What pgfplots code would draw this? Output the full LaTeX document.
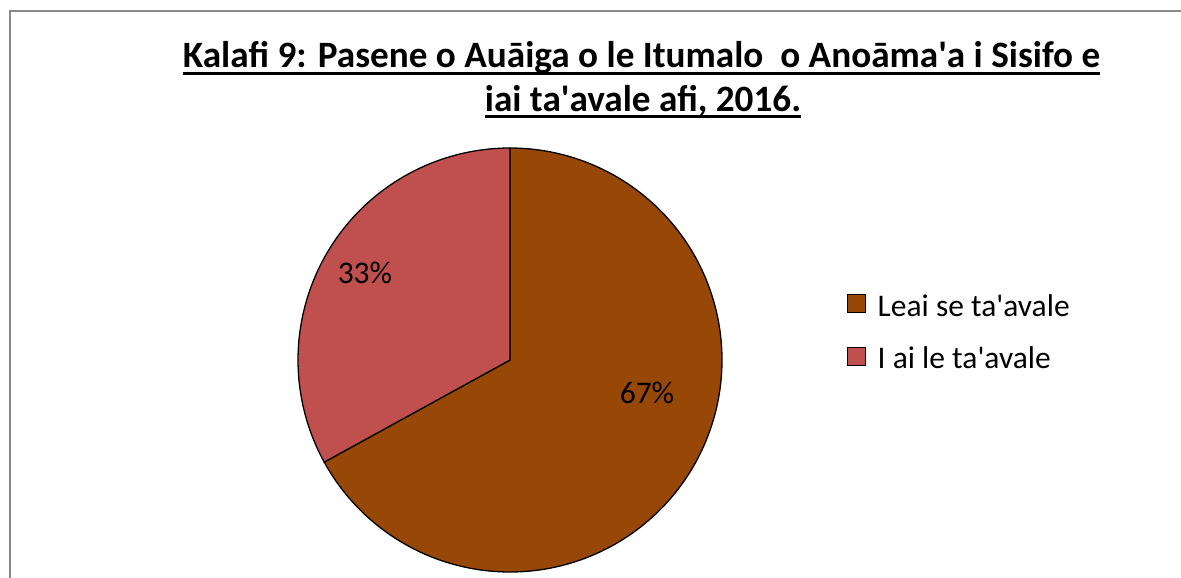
\documentclass[border=0pt]{standalone}
\usepackage{pgfplots}
\pgfplotsset{compat=1.18}
\usepackage{pgfplotstable}
\usepackage{fontspec}
\setmainfont{Carlito}
\definecolor{brownc}{HTML}{974706}
\definecolor{redc}{HTML}{C0504D}
\definecolor{framec}{HTML}{898989}
\newcommand\q{\textquotesingle}
\newcommand\ul[1]{\setbox0\hbox{#1}\rlap{\rule[-7pt]{\wd0}{2.5pt}}\box0}

\pgfplotstableread{
value
67
33
}\piedata

\begin{document}%
\begin{tikzpicture}
\pgfplotstablegetelem{0}{value}\of\piedata\pgfmathsetmacro\va{\pgfplotsretval}
\pgfplotstablegetelem{1}{value}\of\piedata\pgfmathsetmacro\vb{\pgfplotsretval}
\pgfmathsetmacro\splitang{90+3.6*\vb}
\pgfmathsetmacro\endang{\splitang+3.6*\va}
\begin{axis}[
  x=1pt, y=1pt,
  xmin=0, xmax=1181, ymin=0, ymax=578,
  y dir=reverse,
  hide axis, clip=false,
  legend style={at={(axis cs:847,294)}, anchor=north west, draw=none, fill=none,
    font=\fontsize{31.5}{38}\selectfont, row sep=29.5pt, column sep=0pt, inner sep=0pt,
    nodes={inner sep=0pt}},
  legend cell align=left,
  legend image code/.code={\draw[#1, draw=black, line width=1pt] (0pt,-7pt) rectangle (18pt,11pt);
     \path[draw=none, fill=none] (0pt,0pt) -- (30pt,0pt);},
]
\path (axis cs:0,0) rectangle (axis cs:1181,578);
\addplot[fill=brownc, draw=black, line width=1.3pt, domain=\splitang:\endang, samples=200, variable=\t]
  ({510+212*cos(\t)},{360-212*sin(\t)}) -- (axis cs:510,360) -- cycle;
\addlegendentry{Leai se ta\q{}avale}
\addplot[fill=redc, draw=black, line width=1.3pt, domain=90:\splitang, samples=100, variable=\t]
  ({510+212*cos(\t)},{360-212*sin(\t)}) -- (axis cs:510,360) -- cycle;
\addlegendentry{I ai le ta\q{}avale}
\node[font=\fontsize{31.5}{38}\selectfont, anchor=base] at (axis cs:365,283)
  {\pgfmathprintnumber[assume math mode=true]{\vb}\%};
\node[font=\fontsize{31.5}{38}\selectfont, anchor=base] at (axis cs:647,403)
  {\pgfmathprintnumber[assume math mode=true]{\va}\%};
\node[font=\fontsize{37.2}{40}\selectfont\bfseries, anchor=base, inner sep=0pt] at (axis cs:641.5,68)
  {\ul{Kalafi 9: Pasene o Auāiga o le Itumalo\ \ o Anoāma\q{}a i Sisifo e}};
\node[font=\fontsize{37.2}{40}\selectfont\bfseries, anchor=base, inner sep=0pt] at (axis cs:643,111)
  {\ul{iai ta\q{}avale afi, 2016.}};
\draw[framec, line width=2pt] (axis cs:10,578) -- (axis cs:10,11) -- (axis cs:1181,11);
\end{axis}
\pgfresetboundingbox
\path (0,0) rectangle (1181pt,578pt);
\end{tikzpicture}%
\end{document}
